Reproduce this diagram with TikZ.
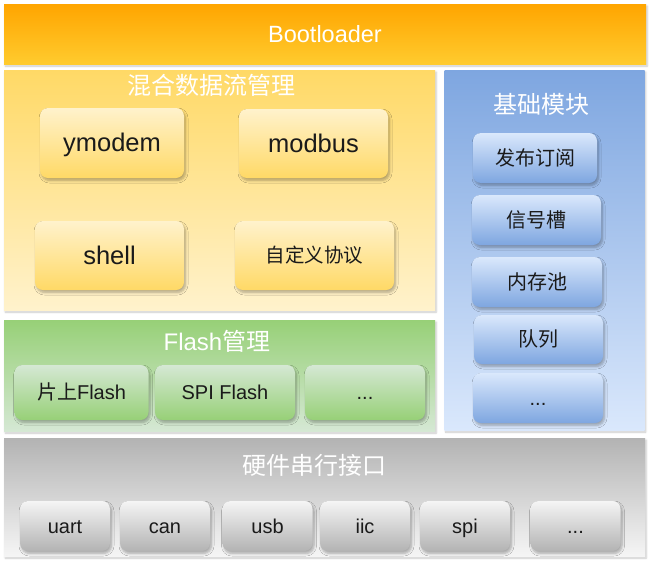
\documentclass[tikz,border=0pt]{standalone}
\usepackage{fontspec}
\setmainfont{Liberation Sans}
\newfontfamily\cjk{Noto Sans CJK SC}
\usetikzlibrary{shadows,shadows.blur}
\newcommand\myfs[1]{\fontsize{#1}{#1}\selectfont}
\definecolor{orA}{HTML}{FFA500}
\definecolor{orB}{HTML}{FFCB2E}
\definecolor{yeA}{HTML}{FFD966}
\definecolor{yeB}{HTML}{FFF2CC}
\definecolor{blA}{HTML}{7EA6E0}
\definecolor{blB}{HTML}{DAE8FC}
\definecolor{grA}{HTML}{97D077}
\definecolor{grB}{HTML}{D5E8D4}
\definecolor{gyA}{HTML}{B3B3B3}
\definecolor{gyB}{HTML}{F5F5F5}
\definecolor{txt}{HTML}{1A1A1A}
\tikzset{
  panelshadow/.style={blur shadow={shadow blur steps=6, shadow xshift=1.2pt, shadow yshift=-2pt, shadow opacity=22, shadow blur radius=2pt}},
  boxshadow/.style={blur shadow={shadow blur steps=6, shadow xshift=1.5pt, shadow yshift=-2.5pt, shadow opacity=30, shadow blur radius=2.5pt}},
  panel/.style={panelshadow, draw=none, inner sep=0pt, rectangle},
  item/.style={boxshadow, draw=none, inner sep=0pt, rounded corners=8pt, text=txt},
  title/.style={text=white, inner sep=0pt, font=\myfs{24}},
  big/.style={font=\myfs{25.5}, text height=23pt, text depth=5.1pt},
  mid/.style={font=\myfs{20}, text height=18pt, text depth=4pt},
  midcjk/.style={font=\myfs{20}\cjk, text height=18pt, text depth=4pt},
  yel/.style={item, top color=yeB, bottom color=yeA, big},
  blu/.style={item, top color=blB, bottom color=blA, mid},
  grn/.style={item, top color=grB, bottom color=grA, mid},
  gry/.style={item, top color=gyB, bottom color=gyA, mid},
}
\begin{document}
\begin{tikzpicture}[x=1pt,y=-1pt]
\useasboundingbox (0,0) rectangle (650,565);
% panels
\node[panel, top color=orA, bottom color=orB, minimum width=642, minimum height=60] (boot) at (325,34) {};
\node[title, font=\myfs{23.5}] (boott) at (325,34) {Bootloader};

\node[panel, top color=yeA, bottom color=yeB, minimum width=431, minimum height=240] (mix) at (219.5,190) {};
\node[title] (mixt) at (211.5,85) {\cjk 混合数据流管理};

\node[panel, top color=blA, bottom color=blB, minimum width=200, minimum height=360] (base) at (544.5,250) {};
\node[title] (baset) at (541,104) {\cjk 基础模块};

\node[panel, top color=grA, bottom color=grB, minimum width=431, minimum height=111] (flash) at (219.5,375.5) {};
\node[title] (flasht) at (217,341.5) {Flash{\cjk 管理}};

\node[panel, top color=gyA, bottom color=gyB, minimum width=641, minimum height=118] (hw) at (324.5,497) {};
\node[title] (hwt) at (314,465) {\cjk 硬件串行接口};

% yellow items
\node[yel, minimum width=144, minimum height=70] (ymodem) at (112,143) {ymodem};
\node[yel, minimum width=149, minimum height=69] (modbus) at (313.5,143.5) {modbus};
\node[yel, minimum width=149, minimum height=69] (shell) at (109.5,255.5) {shell};
\node[yel, minimum width=159, minimum height=69, font=\myfs{19.5}\cjk, text height=17.5pt, text depth=3.9pt] (custom) at (314.5,255.5) {自定义协议};

% blue items
\node[blu, midcjk, minimum width=124, minimum height=50] (pubsub) at (535,158) {发布订阅};
\node[blu, midcjk, minimum width=129, minimum height=50] (sigslot) at (536.5,220) {信号槽};
\node[blu, midcjk, minimum width=130, minimum height=50] (mempool) at (537,282) {内存池};
\node[blu, midcjk, minimum width=129, minimum height=49] (queue) at (538.5,339.5) {队列};
\node[blu, minimum width=130, minimum height=50] (bmore) at (538,398) {...};

% green items
\node[grn, minimum width=134, minimum height=55] (onchip) at (81.5,392.5) {{\cjk 片上}Flash};
\node[grn, minimum width=140, minimum height=55] (spiflash) at (225,392.5) {SPI Flash};
\node[grn, minimum width=120, minimum height=55] (fmore) at (365,392.5) {...};

% gray items
\node[gry, minimum width=90, minimum height=50] (uart) at (65,526) {uart};
\node[gry, minimum width=90, minimum height=50] (can) at (165,526) {can};
\node[gry, minimum width=90, minimum height=50] (usb) at (267.5,526) {usb};
\node[gry, minimum width=90, minimum height=50] (iic) at (365,526) {iic};
\node[gry, minimum width=90, minimum height=50] (spi) at (465,526) {spi};
\node[gry, minimum width=90, minimum height=50] (hmore) at (575.5,526) {...};
\end{tikzpicture}
\end{document}
